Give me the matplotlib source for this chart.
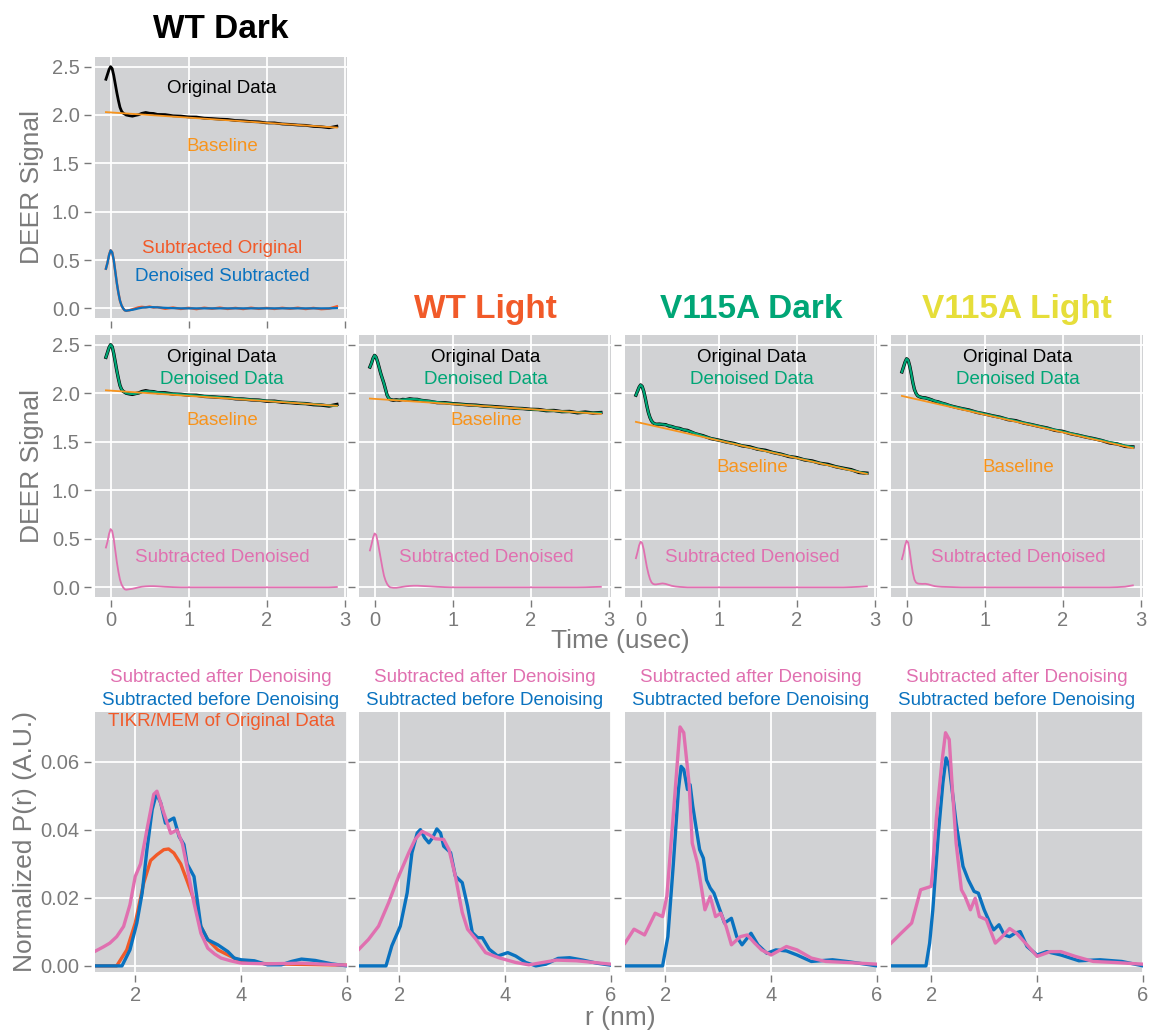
import matplotlib
matplotlib.use("Agg")
import matplotlib.pyplot as plt

plt.rcParams['font.family'] = ['Liberation Sans', 'DejaVu Sans']

# ---------------- data: time-domain DEER traces ----------------
t = [-0.06, -0.04, -0.02, 0.00, 0.02, 0.04, 0.06, 0.08, 0.10, 0.12, 0.14, 0.16, 0.18, 0.20,
     0.24, 0.28, 0.32, 0.36, 0.40, 0.45, 0.50, 0.55, 0.60, 0.70, 0.80, 0.90, 1.00, 1.10,
     1.20, 1.30, 1.40, 1.50, 1.60, 1.70, 1.80, 1.90, 2.00, 2.10, 2.20, 2.30, 2.40, 2.50,
     2.60, 2.70, 2.80, 2.90]
t_base = [-0.06, 2.90]

wt_dark_orig = [2.37, 2.42, 2.47, 2.50, 2.48, 2.41, 2.32, 2.23, 2.15, 2.08, 2.04, 2.02, 2.01, 2.00,
                1.993, 1.988, 1.996, 2.003, 2.017, 2.026, 2.018, 2.016, 2.006, 2.004, 1.992, 1.989, 1.980, 1.979,
                1.967, 1.963, 1.957, 1.954, 1.943, 1.940, 1.932, 1.929, 1.918, 1.918, 1.907, 1.903, 1.896, 1.893,
                1.882, 1.878, 1.868, 1.884]
wt_dark_den = [2.37, 2.42, 2.47, 2.50, 2.48, 2.41, 2.32, 2.23, 2.15, 2.08, 2.04, 2.02, 2.01, 2.00,
               1.995, 1.992, 1.995, 2.002, 2.012, 2.020, 2.018, 2.014, 2.008, 2.000, 1.994, 1.988, 1.982, 1.976,
               1.970, 1.964, 1.958, 1.952, 1.946, 1.940, 1.934, 1.928, 1.922, 1.916, 1.910, 1.904, 1.898, 1.892,
               1.886, 1.880, 1.874, 1.870]
wt_dark_base = [2.03, 1.87]
wt_dark_sub_orig = [0.41, 0.47, 0.55, 0.60, 0.58, 0.50, 0.38, 0.26, 0.16, 0.08, 0.03, 0.00, -0.02, -0.025,
                    -0.02, -0.010, 0.000, 0.010, 0.015, 0.010, 0.018, 0.008, 0.012, -0.004, 0.008, -0.006, 0.005, -0.008,
                    0.006, -0.004, 0.007, -0.006, 0.004, -0.007, 0.006, -0.005, 0.004, -0.006, 0.005, -0.004, 0.006, -0.007,
                    0.004, -0.008, -0.003, 0.020]
wt_dark_sub_den = [0.41, 0.47, 0.55, 0.60, 0.58, 0.50, 0.38, 0.26, 0.16, 0.08, 0.03, 0.00, -0.02, -0.025,
                   -0.02, -0.015, -0.008, 0.000, 0.006, 0.010, 0.012, 0.012, 0.010, 0.005, 0.002, 0.000, 0.000, 0.000,
                   0.000, 0.000, 0.000, 0.000, 0.000, 0.000, 0.000, 0.000, 0.000, 0.000, 0.000, 0.000, 0.000, 0.000,
                   0.000, 0.000, 0.000, 0.003]

wt_light_orig = [2.27, 2.31, 2.36, 2.39, 2.37, 2.32, 2.26, 2.20, 2.15, 2.10, 2.04, 1.98, 1.95, 1.935,
                 1.928, 1.932, 1.927, 1.936, 1.933, 1.942, 1.937, 1.936, 1.926, 1.917, 1.903, 1.902, 1.893, 1.887,
                 1.880, 1.877, 1.868, 1.864, 1.858, 1.852, 1.845, 1.842, 1.834, 1.832, 1.820, 1.822, 1.810, 1.812,
                 1.798, 1.806, 1.796, 1.801]
wt_light_den = [2.27, 2.31, 2.36, 2.39, 2.37, 2.32, 2.26, 2.20, 2.15, 2.10, 2.04, 1.98, 1.95, 1.935,
                1.930, 1.930, 1.931, 1.934, 1.936, 1.939, 1.939, 1.936, 1.928, 1.918, 1.908, 1.900, 1.893, 1.886,
                1.880, 1.874, 1.868, 1.862, 1.856, 1.850, 1.845, 1.840, 1.834, 1.828, 1.823, 1.818, 1.812, 1.808,
                1.803, 1.800, 1.798, 1.798]
wt_light_base = [1.945, 1.787]
wt_light_sub = [0.38, 0.44, 0.51, 0.555, 0.54, 0.47, 0.38, 0.29, 0.20, 0.12, 0.07, 0.035, 0.012, 0.000,
                -0.005, -0.005, 0.000, 0.005, 0.010, 0.014, 0.016, 0.016, 0.014, 0.010, 0.005, 0.002, 0.000, 0.000,
                0.000, 0.000, 0.000, 0.000, 0.000, 0.000, 0.000, 0.000, 0.000, 0.000, 0.000, 0.000, 0.000, 0.000,
                0.000, 0.001, 0.003, 0.005]

v_dark_orig = [1.98, 2.02, 2.06, 2.085, 2.07, 2.02, 1.95, 1.87, 1.80, 1.75, 1.715, 1.695, 1.685, 1.680,
               1.682, 1.678, 1.676, 1.663, 1.657, 1.643, 1.637, 1.622, 1.617, 1.583, 1.562, 1.533, 1.517, 1.497,
               1.482, 1.458, 1.447, 1.423, 1.412, 1.388, 1.372, 1.348, 1.337, 1.313, 1.302, 1.278, 1.267, 1.243,
               1.227, 1.212, 1.183, 1.176]
v_dark_den = [1.98, 2.02, 2.06, 2.085, 2.07, 2.02, 1.95, 1.87, 1.80, 1.75, 1.715, 1.695, 1.685, 1.680,
              1.680, 1.679, 1.674, 1.666, 1.656, 1.645, 1.635, 1.624, 1.614, 1.585, 1.560, 1.535, 1.515, 1.497,
              1.479, 1.460, 1.442, 1.424, 1.406, 1.388, 1.370, 1.351, 1.333, 1.315, 1.297, 1.279, 1.261, 1.243,
              1.225, 1.207, 1.188, 1.172]
v_dark_base = [1.705, 1.168]
v_dark_sub = [0.30, 0.36, 0.43, 0.47, 0.455, 0.39, 0.30, 0.21, 0.14, 0.085, 0.05, 0.035, 0.030, 0.030,
              0.035, 0.040, 0.035, 0.025, 0.015, 0.008, 0.004, 0.002, 0.000, 0.000, 0.000, 0.000, 0.000, 0.000,
              0.000, 0.000, 0.000, 0.000, 0.000, 0.000, 0.000, 0.000, 0.000, 0.000, 0.000, 0.000, 0.000, 0.000,
              0.000, 0.002, 0.005, 0.010]

v_light_orig = [2.22, 2.27, 2.32, 2.355, 2.34, 2.28, 2.20, 2.11, 2.04, 2.00, 1.975, 1.965, 1.960, 1.955,
                1.952, 1.943, 1.932, 1.918, 1.912, 1.898, 1.887, 1.873, 1.862, 1.843, 1.827, 1.803, 1.787, 1.768,
                1.752, 1.728, 1.717, 1.693, 1.677, 1.658, 1.642, 1.618, 1.607, 1.583, 1.567, 1.548, 1.532, 1.513,
                1.488, 1.477, 1.452, 1.447]
v_light_den = [2.22, 2.27, 2.32, 2.355, 2.34, 2.28, 2.20, 2.11, 2.04, 2.00, 1.975, 1.965, 1.960, 1.955,
               1.950, 1.942, 1.932, 1.921, 1.911, 1.899, 1.887, 1.875, 1.863, 1.844, 1.825, 1.806, 1.787, 1.769,
               1.751, 1.732, 1.714, 1.696, 1.678, 1.660, 1.641, 1.623, 1.605, 1.587, 1.569, 1.550, 1.532, 1.514,
               1.496, 1.478, 1.460, 1.445]
v_light_base = [1.972, 1.434]
v_light_sub = [0.29, 0.35, 0.43, 0.48, 0.46, 0.37, 0.25, 0.15, 0.08, 0.05, 0.04, 0.037, 0.036, 0.035,
               0.036, 0.030, 0.020, 0.012, 0.008, 0.005, 0.004, 0.003, 0.002, 0.000, 0.000, 0.000, 0.000, 0.000,
               0.000, 0.000, 0.000, 0.000, 0.000, 0.000, 0.000, 0.000, 0.000, 0.000, 0.000, 0.000, 0.000, 0.000,
               0.000, 0.002, 0.006, 0.020]

# ---------------- data: distance distributions P(r) ----------------
wt_dark_after_r = [1.23, 1.40, 1.52, 1.65, 1.78, 1.90, 2.00, 2.10, 2.22, 2.35, 2.41, 2.54, 2.67, 2.79, 2.89,
                   2.98, 3.11, 3.24, 3.37, 3.50, 3.62, 3.80, 4.00, 4.50, 5.14, 6.00]
wt_dark_after_p = [0.0042, 0.0056, 0.0067, 0.0086, 0.0116, 0.0180, 0.0263, 0.0300, 0.0400, 0.0505, 0.0514,
                   0.0450, 0.0390, 0.0400, 0.0360, 0.0290, 0.0185, 0.0096, 0.0052, 0.0035, 0.0023, 0.0015,
                   0.0008, 0.0006, 0.0008, 0.0002]
wt_dark_before_r = [1.23, 1.75, 1.90, 2.03, 2.13, 2.22, 2.32, 2.40, 2.48, 2.57, 2.67, 2.73, 2.83, 2.92, 2.98,
                    3.11, 3.24, 3.37, 3.56, 3.75, 3.87, 4.00, 4.25, 4.50, 4.76, 4.95, 5.14, 5.40, 5.71, 6.00]
wt_dark_before_p = [0.0, 0.0, 0.0047, 0.0126, 0.0214, 0.0340, 0.0460, 0.0507, 0.0480, 0.0420, 0.0430, 0.0435,
                    0.0380, 0.0357, 0.0300, 0.0263, 0.0116, 0.0077, 0.0062, 0.0042, 0.0023, 0.0018, 0.0015,
                    0.0003, 0.0003, 0.0013, 0.0020, 0.0016, 0.0006, 0.0]
wt_dark_tikr_r = [1.23, 1.65, 1.84, 2.00, 2.16, 2.29, 2.41, 2.54, 2.63, 2.73, 2.86, 2.98, 3.11, 3.24, 3.37,
                  3.56, 3.87, 4.00, 4.50, 6.00]
wt_dark_tikr_p = [0.0, 0.0, 0.0047, 0.0126, 0.0244, 0.0310, 0.0327, 0.0342, 0.0344, 0.0332, 0.0300, 0.0250,
                  0.0194, 0.0116, 0.0077, 0.0047, 0.0023, 0.0013, 0.0006, 0.0002]

wt_light_after_r = [1.24, 1.42, 1.61, 1.80, 1.99, 2.18, 2.30, 2.43, 2.56, 2.68, 2.84, 2.94, 3.06, 3.19, 3.29,
                    3.45, 3.63, 3.88, 4.20, 4.45, 4.71, 4.97, 5.35, 6.00]
wt_light_after_p = [0.0049, 0.0078, 0.0117, 0.0186, 0.0264, 0.0333, 0.0372, 0.0396, 0.0386, 0.0374, 0.0372,
                    0.0342, 0.0264, 0.0157, 0.0108, 0.0078, 0.0039, 0.0024, 0.0010, 0.0003, 0.0010, 0.0017,
                    0.0015, 0.0005]
wt_light_before_r = [1.24, 1.75, 1.86, 2.02, 2.15, 2.24, 2.34, 2.40, 2.48, 2.56, 2.63, 2.71, 2.78, 2.84, 2.91,
                     2.97, 3.06, 3.19, 3.29, 3.38, 3.48, 3.57, 3.70, 3.86, 4.05, 4.20, 4.39, 4.58, 4.77, 5.00,
                     5.22, 5.47, 5.73, 6.00]
wt_light_before_p = [0.0, 0.0, 0.0059, 0.0117, 0.0215, 0.0333, 0.0391, 0.0401, 0.0377, 0.0362, 0.0377, 0.0403,
                     0.0391, 0.0352, 0.0342, 0.0333, 0.0264, 0.0245, 0.0176, 0.0098, 0.0083, 0.0083, 0.0049,
                     0.0029, 0.0039, 0.0029, 0.0010, 0.0, 0.0005, 0.0022, 0.0024, 0.0017, 0.0008, 0.0002]

v_dark_after_r = [1.24, 1.41, 1.61, 1.81, 1.95, 2.03, 2.15, 2.28, 2.35, 2.45, 2.51, 2.61, 2.75, 2.85, 2.95,
                  3.05, 3.15, 3.25, 3.42, 3.55, 3.69, 3.82, 4.00, 4.29, 4.49, 4.76, 5.03, 5.43, 6.00]
v_dark_after_p = [0.0067, 0.0108, 0.0091, 0.0155, 0.0145, 0.0204, 0.0440, 0.0703, 0.0686, 0.0538, 0.0361,
                  0.0302, 0.0165, 0.0204, 0.0145, 0.0155, 0.0116, 0.0062, 0.0086, 0.0091, 0.0067, 0.0047,
                  0.0032, 0.0057, 0.0047, 0.0023, 0.0013, 0.0010, 0.0005]
v_dark_before_r = [1.24, 1.95, 2.05, 2.15, 2.25, 2.30, 2.35, 2.42, 2.47, 2.52, 2.58, 2.65, 2.72, 2.78, 2.85,
                   2.92, 3.02, 3.12, 3.25, 3.35, 3.45, 3.62, 3.75, 3.92, 4.09, 4.29, 4.49, 4.76, 5.16, 5.43, 6.00]
v_dark_before_p = [0.0, 0.0, 0.0086, 0.0293, 0.0519, 0.0587, 0.0578, 0.0519, 0.0533, 0.0470, 0.0410, 0.0342,
                   0.0317, 0.0253, 0.0229, 0.0214, 0.0170, 0.0126, 0.0140, 0.0086, 0.0062, 0.0096, 0.0062,
                   0.0037, 0.0047, 0.0044, 0.0032, 0.0013, 0.0018, 0.0013, 0.0]

v_light_after_r = [1.21, 1.43, 1.63, 1.80, 1.90, 2.00, 2.10, 2.20, 2.27, 2.34, 2.40, 2.47, 2.57, 2.64, 2.74,
                   2.83, 2.91, 3.04, 3.21, 3.34, 3.48, 3.61, 3.78, 4.00, 4.25, 4.45, 4.72, 5.06, 5.46, 6.00]
v_light_after_p = [0.0062, 0.0096, 0.0126, 0.0224, 0.0229, 0.0234, 0.0440, 0.0597, 0.0686, 0.0666, 0.0519,
                   0.0361, 0.0224, 0.0204, 0.0165, 0.0199, 0.0145, 0.0136, 0.0067, 0.0086, 0.0110, 0.0096,
                   0.0067, 0.0028, 0.0042, 0.0042, 0.0028, 0.0013, 0.0010, 0.0005]
v_light_before_r = [1.21, 1.90, 1.97, 2.03, 2.13, 2.22, 2.28, 2.34, 2.40, 2.47, 2.54, 2.60, 2.70, 2.81, 2.89,
                    3.00, 3.11, 3.18, 3.28, 3.38, 3.48, 3.58, 3.68, 3.81, 4.00, 4.18, 4.45, 4.79, 5.19, 5.60, 6.00]
v_light_before_p = [0.0, 0.0, 0.0067, 0.0165, 0.0380, 0.0538, 0.0612, 0.0587, 0.0510, 0.0420, 0.0352, 0.0293,
                    0.0253, 0.0219, 0.0214, 0.0165, 0.0126, 0.0106, 0.0121, 0.0091, 0.0086, 0.0096, 0.0101,
                    0.0057, 0.0032, 0.0042, 0.0032, 0.0015, 0.0018, 0.0013, 0.0]

titles = ["WT Dark", "WT Light", "V115A Dark", "V115A Light"]

# ---------------- style ----------------
BG = '#D1D2D4'
GRAY = '#7A7A7A'
C_BLACK = '#000000'
C_GREEN = '#00A676'
C_ORANGE = '#F7941D'
C_PINK = '#E070B0'
C_BLUE = '#0A72BF'
C_RED = '#F15A29'
C_YELLOW = '#E6DE3A'
title_colors = ['#000000', C_RED, C_GREEN, C_YELLOW]

W, H = 1151, 1031
fig = plt.figure(figsize=(W / 100, H / 100), dpi=100)


def add_ax(left, top, w, h):
    return fig.add_axes([left / W, 1 - (top + h) / H, w / W, h / H])


def style(ax):
    ax.set_facecolor(BG)
    for s in ax.spines.values():
        s.set_visible(False)
    ax.spines['left'].set_position(('outward', 3))
    ax.spines['bottom'].set_position(('outward', 2))
    ax.grid(True, color='white', lw=1.3)
    ax.set_axisbelow(True)
    ax.tick_params(direction='out', length=5, width=1, color=GRAY, labelcolor=GRAY,
                   labelsize=14.5, pad=3)


lefts = [95, 359, 625, 891]
pw = 252
row_tops = [57, 335, 712]
ph = [261, 262, 260]

TFS = 13.5  # annotation font size
XC = 1.43


def time_axes(ax, show_xlabels=True, show_ylabels=True):
    style(ax)
    ax.set_xlim(-0.2, 3.03)
    ax.set_ylim(-0.1, 2.6)
    ax.set_xticks([0, 1, 2, 3])
    ax.set_yticks([0.0, 0.5, 1.0, 1.5, 2.0, 2.5])
    if not show_xlabels:
        ax.set_xticklabels([])
    if not show_ylabels:
        ax.set_yticklabels([])


# ---- row 1: WT Dark overview ----
ax = add_ax(lefts[0], row_tops[0], pw, ph[0])
time_axes(ax, show_xlabels=False)
ax.plot(t, wt_dark_orig, color=C_BLACK, lw=2.0)
ax.plot(t_base, wt_dark_base, color=C_ORANGE, lw=1.3)
ax.plot(t, wt_dark_sub_orig, color=C_RED, lw=1.8)
ax.plot(t, wt_dark_sub_den, color=C_BLUE, lw=1.6)
ax.text(XC, 2.27, "Original Data", color=C_BLACK, fontsize=TFS, ha='center', va='center')
ax.text(XC, 1.67, "Baseline", color=C_ORANGE, fontsize=TFS, ha='center', va='center')
ax.text(XC, 0.62, "Subtracted Original", color=C_RED, fontsize=TFS, ha='center', va='center')
ax.text(XC, 0.33, "Denoised Subtracted", color=C_BLUE, fontsize=TFS, ha='center', va='center')
ax.set_title(titles[0], fontsize=24, fontweight='bold', color=title_colors[0], pad=14)

# ---- row 2: time traces ----
origs = [wt_dark_orig, wt_light_orig, v_dark_orig, v_light_orig]
dens = [wt_dark_den, wt_light_den, v_dark_den, v_light_den]
bases = [wt_dark_base, wt_light_base, v_dark_base, v_light_base]
subs = [wt_dark_sub_den, wt_light_sub, v_dark_sub, v_light_sub]
base_text_y = [1.72, 1.72, 1.235, 1.235]

for i in range(4):
    ax = add_ax(lefts[i], row_tops[1], pw, ph[1])
    time_axes(ax, show_ylabels=(i == 0))
    ax.plot(t, origs[i], color=C_BLACK, lw=2.4)
    ax.plot(t, dens[i], color=C_GREEN, lw=1.6)
    ax.plot(t_base, bases[i], color=C_ORANGE, lw=1.3)
    ax.plot(t, subs[i], color=C_PINK, lw=1.3)
    ax.text(XC, 2.37, "Original Data", color=C_BLACK, fontsize=TFS, ha='center', va='center')
    ax.text(XC, 2.14, "Denoised Data", color=C_GREEN, fontsize=TFS, ha='center', va='center')
    ax.text(XC, base_text_y[i], "Baseline", color=C_ORANGE, fontsize=TFS, ha='center', va='center')
    ax.text(XC, 0.31, "Subtracted Denoised", color=C_PINK, fontsize=TFS, ha='center', va='center')
    if i > 0:
        ax.set_title(titles[i], fontsize=24, fontweight='bold', color=title_colors[i], pad=12)

# ---- row 3: distance distributions ----
afters = [(wt_dark_after_r, wt_dark_after_p), (wt_light_after_r, wt_light_after_p),
          (v_dark_after_r, v_dark_after_p), (v_light_after_r, v_light_after_p)]
befores = [(wt_dark_before_r, wt_dark_before_p), (wt_light_before_r, wt_light_before_p),
           (v_dark_before_r, v_dark_before_p), (v_light_before_r, v_light_before_p)]

for i in range(4):
    ax = add_ax(lefts[i], row_tops[2], pw, ph[2])
    style(ax)
    ax.set_xlim(1.24, 6.0)
    ax.set_ylim(-0.0018, 0.0747)
    ax.set_xticks([2, 4, 6])
    ax.set_yticks([0.0, 0.02, 0.04, 0.06])
    ax.yaxis.set_major_formatter(matplotlib.ticker.FormatStrFormatter('%.2f'))
    if i > 0:
        ax.set_yticklabels([])
    if i == 0:
        ax.plot(wt_dark_tikr_r, wt_dark_tikr_p, color=C_RED, lw=2.4)
    ax.plot(befores[i][0], befores[i][1], color=C_BLUE, lw=2.4)
    ax.plot(afters[i][0], afters[i][1], color=C_PINK, lw=2.4)
    ax.text(0.5, 1.131, "Subtracted after Denoising", color=C_PINK, fontsize=TFS,
            ha='center', va='center', transform=ax.transAxes)
    ax.text(0.5, 1.046, "Subtracted before Denoising", color=C_BLUE, fontsize=TFS,
            ha='center', va='center', transform=ax.transAxes)
    if i == 0:
        ax.text(0.5, 0.962, "TIKR/MEM of Original Data", color=C_RED, fontsize=TFS,
                ha='center', va='center', transform=ax.transAxes)

# ---- shared labels ----
fig.text(32 / W, 1 - 187 / H, "DEER Signal", rotation=90, ha='center', va='center',
         fontsize=19, color=GRAY)
fig.text(32 / W, 1 - 466 / H, "DEER Signal", rotation=90, ha='center', va='center',
         fontsize=19, color=GRAY)
fig.text(25 / W, 1 - 842 / H, "Normalized P(r) (A.U.)", rotation=90, ha='center', va='center',
         fontsize=19, color=GRAY)
fig.text(620 / W, 1 - 641 / H, "Time (usec)", ha='center', va='center', fontsize=19, color=GRAY)
fig.text(620 / W, 1 - 1018 / H, "r (nm)", ha='center', va='center', fontsize=19, color=GRAY)

fig.savefig("out.png", dpi=100)
